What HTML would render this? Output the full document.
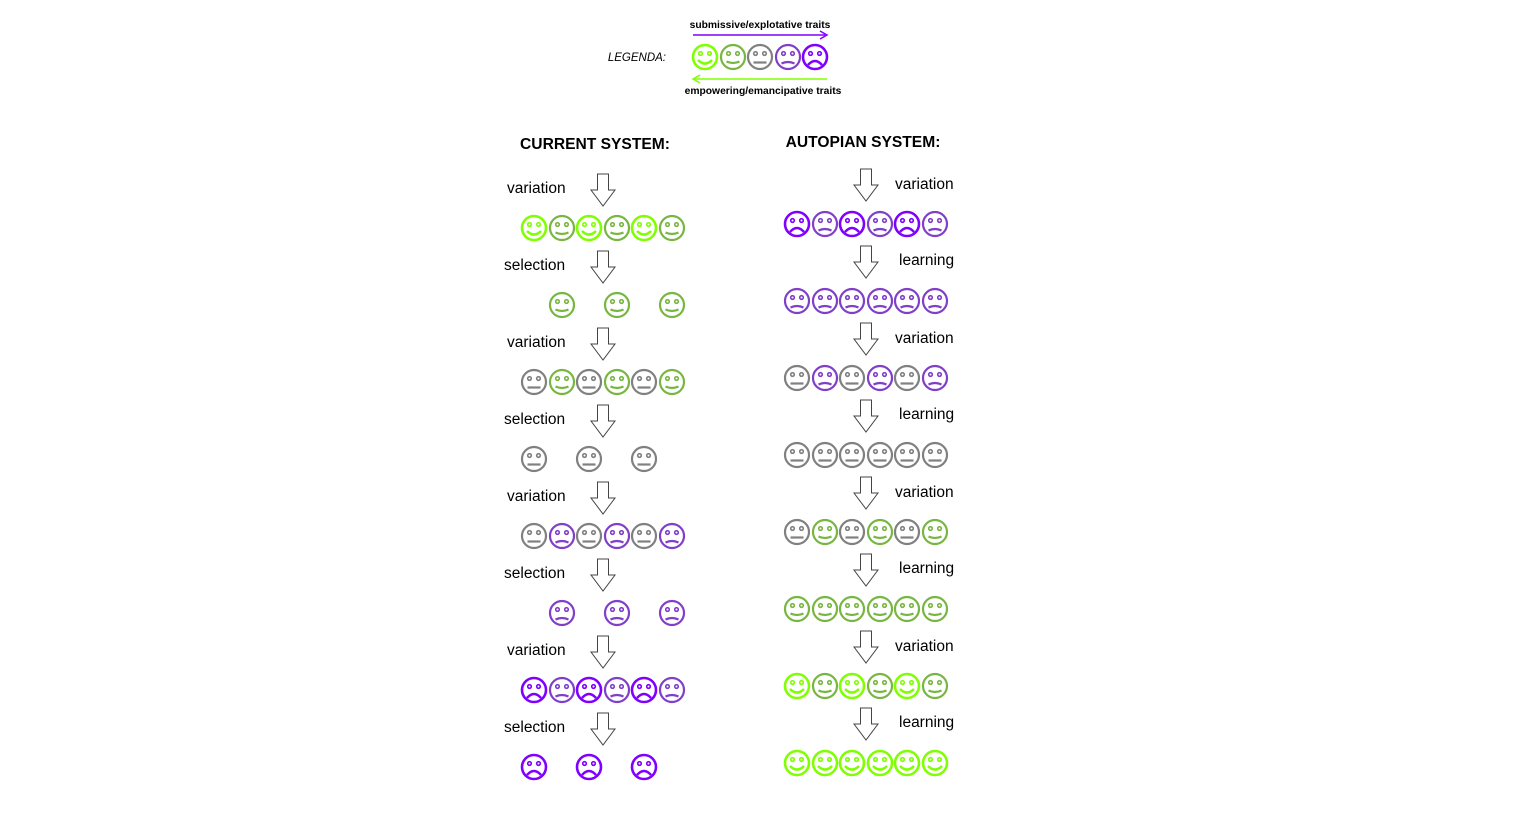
<!DOCTYPE html>
<html><head><meta charset="utf-8"><style>
html,body{margin:0;padding:0;background:#fff;}
svg{display:block;font-family:"Liberation Sans",Arial,sans-serif;}
.l{font-size:15.5px;fill:#000;}
.t{font-size:15.6px;font-weight:bold;fill:#000;}
</style></head><body>
<svg width="1536" height="818" viewBox="0 0 1536 818" xmlns="http://www.w3.org/2000/svg">
<defs>
<symbol id="f1" overflow="visible"><g fill="none" stroke="#80ff00" stroke-width="2.6"><circle r="12"/><circle cx="-4.5" cy="-3.5" r="1.8" stroke-width="1.6"/><circle cx="4.5" cy="-3.5" r="1.8" stroke-width="1.6"/><path d="M-7,3 Q0,10 7,3"/></g></symbol>
<symbol id="f2" overflow="visible"><g fill="none" stroke="#77b640" stroke-width="2.2"><circle r="12"/><circle cx="-4.5" cy="-3.5" r="1.8" stroke-width="1.6"/><circle cx="4.5" cy="-3.5" r="1.8" stroke-width="1.6"/><path d="M-6.5,4.5 Q0,7.5 6.5,4.5"/></g></symbol>
<symbol id="f3" overflow="visible"><g fill="none" stroke="#808080" stroke-width="2.2"><circle r="12"/><circle cx="-4.5" cy="-3.5" r="1.8" stroke-width="1.6"/><circle cx="4.5" cy="-3.5" r="1.8" stroke-width="1.6"/><path d="M-6.5,5.5 H6.5"/></g></symbol>
<symbol id="f4" overflow="visible"><g fill="none" stroke="#7f3fc8" stroke-width="2.2"><circle r="12"/><circle cx="-4.5" cy="-3.5" r="1.8" stroke-width="1.6"/><circle cx="4.5" cy="-3.5" r="1.8" stroke-width="1.6"/><path d="M-6.5,6.5 Q0,3.5 6.5,6.5"/></g></symbol>
<symbol id="f5" overflow="visible"><g fill="none" stroke="#8000ff" stroke-width="2.6"><circle r="12"/><circle cx="-4.5" cy="-3.5" r="1.8" stroke-width="1.6"/><circle cx="4.5" cy="-3.5" r="1.8" stroke-width="1.6"/><path d="M-7,8 Q0,0 7,8"/></g></symbol>
<symbol id="ar" overflow="visible"><path d="M-5.5,0 H5.5 V16 H12 L0,32 L-12,16 H-5.5 Z" fill="#fff" stroke="#444" stroke-width="1"/></symbol>
</defs>

<!-- legend -->
<text x="760" y="28" text-anchor="middle" style="font-size:10.3px;font-weight:bold">submissive/explotative traits</text>
<line x1="693" y1="35" x2="825" y2="35" stroke="#8000ff" stroke-width="1.5"/>
<path d="M820,31 L827,35 L820,39" fill="none" stroke="#8000ff" stroke-width="1.5"/>
<text x="666" y="61" text-anchor="end" style="font-size:11.5px;font-style:italic">LEGENDA:</text>
<use href="#f1" x="705" y="57"/><use href="#f2" x="733" y="57"/><use href="#f3" x="760" y="57"/><use href="#f4" x="788" y="57"/><use href="#f5" x="815" y="57"/>
<line x1="695" y1="79" x2="827" y2="79" stroke="#80ff00" stroke-width="1.5"/>
<path d="M700,75 L693,79 L700,83" fill="none" stroke="#80ff00" stroke-width="1.5"/>
<text x="763" y="94" text-anchor="middle" style="font-size:10.3px;font-weight:bold">empowering/emancipative traits</text>

<text x="595" y="149" text-anchor="middle" class="t">CURRENT SYSTEM:</text>
<text x="863" y="147" text-anchor="middle" class="t">AUTOPIAN SYSTEM:</text>

<!-- current -->
<text x="507" y="193" class="l">variation</text><use href="#ar" x="603" y="174"/>
<use href="#f1" x="534" y="228"/><use href="#f2" x="562" y="228"/><use href="#f1" x="589" y="228"/><use href="#f2" x="617" y="228"/><use href="#f1" x="644" y="228"/><use href="#f2" x="672" y="228"/>
<text x="504" y="270" class="l">selection</text><use href="#ar" x="603" y="251"/>
<use href="#f2" x="562" y="305"/><use href="#f2" x="617" y="305"/><use href="#f2" x="672" y="305"/>
<text x="507" y="347" class="l">variation</text><use href="#ar" x="603" y="328"/>
<use href="#f3" x="534" y="382"/><use href="#f2" x="562" y="382"/><use href="#f3" x="589" y="382"/><use href="#f2" x="617" y="382"/><use href="#f3" x="644" y="382"/><use href="#f2" x="672" y="382"/>
<text x="504" y="424" class="l">selection</text><use href="#ar" x="603" y="405"/>
<use href="#f3" x="534" y="459"/><use href="#f3" x="589" y="459"/><use href="#f3" x="644" y="459"/>
<text x="507" y="501" class="l">variation</text><use href="#ar" x="603" y="482"/>
<use href="#f3" x="534" y="536"/><use href="#f4" x="562" y="536"/><use href="#f3" x="589" y="536"/><use href="#f4" x="617" y="536"/><use href="#f3" x="644" y="536"/><use href="#f4" x="672" y="536"/>
<text x="504" y="578" class="l">selection</text><use href="#ar" x="603" y="559"/>
<use href="#f4" x="562" y="613"/><use href="#f4" x="617" y="613"/><use href="#f4" x="672" y="613"/>
<text x="507" y="655" class="l">variation</text><use href="#ar" x="603" y="636"/>
<use href="#f5" x="534" y="690"/><use href="#f4" x="562" y="690"/><use href="#f5" x="589" y="690"/><use href="#f4" x="617" y="690"/><use href="#f5" x="644" y="690"/><use href="#f4" x="672" y="690"/>
<text x="504" y="732" class="l">selection</text><use href="#ar" x="603" y="713"/>
<use href="#f5" x="534" y="767"/><use href="#f5" x="589" y="767"/><use href="#f5" x="644" y="767"/>

<!-- autopian -->
<use href="#ar" x="866" y="169"/><text x="895" y="189" class="l">variation</text>
<use href="#f5" x="797" y="224"/><use href="#f4" x="825" y="224"/><use href="#f5" x="852" y="224"/><use href="#f4" x="880" y="224"/><use href="#f5" x="907" y="224"/><use href="#f4" x="935" y="224"/>
<use href="#ar" x="866" y="246"/><text x="899" y="265" class="l">learning</text>
<use href="#f4" x="797" y="301"/><use href="#f4" x="825" y="301"/><use href="#f4" x="852" y="301"/><use href="#f4" x="880" y="301"/><use href="#f4" x="907" y="301"/><use href="#f4" x="935" y="301"/>
<use href="#ar" x="866" y="323"/><text x="895" y="343" class="l">variation</text>
<use href="#f3" x="797" y="378"/><use href="#f4" x="825" y="378"/><use href="#f3" x="852" y="378"/><use href="#f4" x="880" y="378"/><use href="#f3" x="907" y="378"/><use href="#f4" x="935" y="378"/>
<use href="#ar" x="866" y="400"/><text x="899" y="419" class="l">learning</text>
<use href="#f3" x="797" y="455"/><use href="#f3" x="825" y="455"/><use href="#f3" x="852" y="455"/><use href="#f3" x="880" y="455"/><use href="#f3" x="907" y="455"/><use href="#f3" x="935" y="455"/>
<use href="#ar" x="866" y="477"/><text x="895" y="497" class="l">variation</text>
<use href="#f3" x="797" y="532"/><use href="#f2" x="825" y="532"/><use href="#f3" x="852" y="532"/><use href="#f2" x="880" y="532"/><use href="#f3" x="907" y="532"/><use href="#f2" x="935" y="532"/>
<use href="#ar" x="866" y="554"/><text x="899" y="573" class="l">learning</text>
<use href="#f2" x="797" y="609"/><use href="#f2" x="825" y="609"/><use href="#f2" x="852" y="609"/><use href="#f2" x="880" y="609"/><use href="#f2" x="907" y="609"/><use href="#f2" x="935" y="609"/>
<use href="#ar" x="866" y="631"/><text x="895" y="651" class="l">variation</text>
<use href="#f1" x="797" y="686"/><use href="#f2" x="825" y="686"/><use href="#f1" x="852" y="686"/><use href="#f2" x="880" y="686"/><use href="#f1" x="907" y="686"/><use href="#f2" x="935" y="686"/>
<use href="#ar" x="866" y="708"/><text x="899" y="727" class="l">learning</text>
<use href="#f1" x="797" y="763"/><use href="#f1" x="825" y="763"/><use href="#f1" x="852" y="763"/><use href="#f1" x="880" y="763"/><use href="#f1" x="907" y="763"/><use href="#f1" x="935" y="763"/>
</svg>
</body></html>
